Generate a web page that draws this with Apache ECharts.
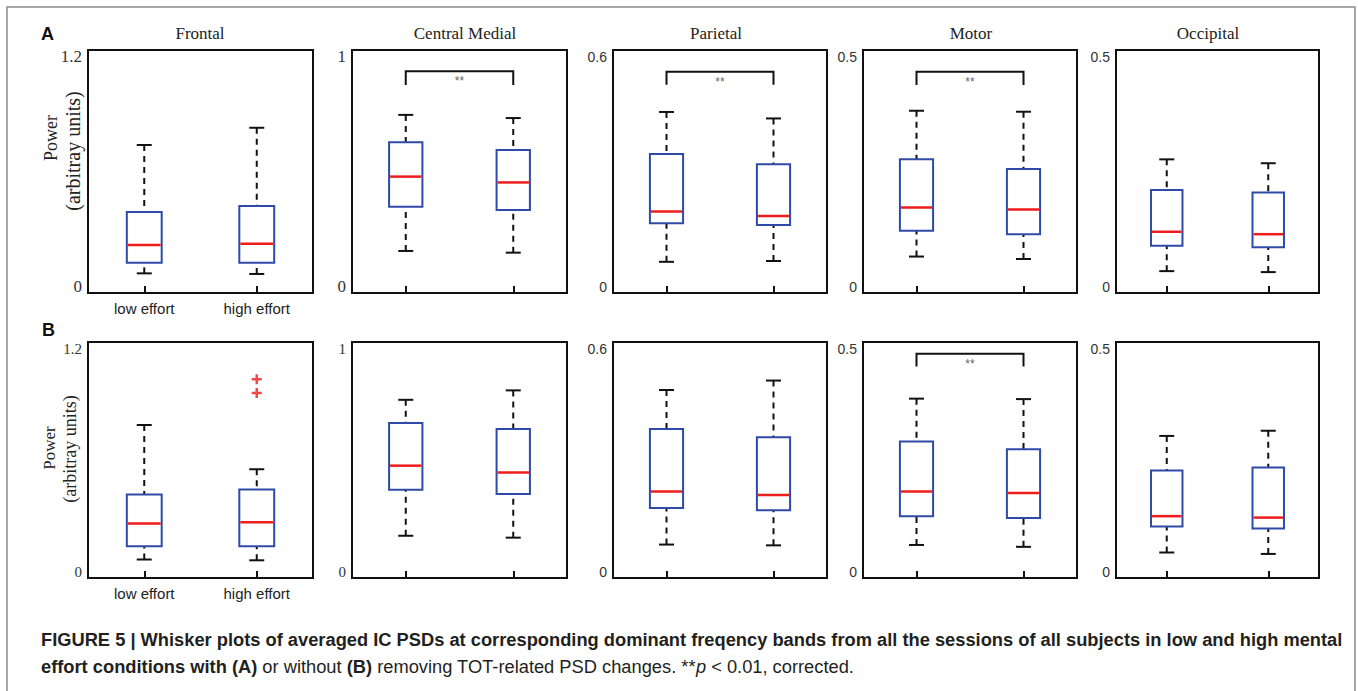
<!DOCTYPE html>
<html lang="en" style="background: #FFFFFF;height: 100%">
<head>
    <meta charset="utf-8" />
    <title>Whisker plots of averaged IC PSDs</title>
    <script type="text/javascript" src="https://cdn.jsdelivr.net/npm/echarts@6/dist/echarts.min.js"></script>
</head>
<body style="margin: 0;height: 100%">
    <div id="chart" style="width:1358px;height:691px"></div>
    <script>
    // data
    const regions = ['Frontal', 'Central Medial', 'Parietal', 'Motor', 'Occipital']
    const conditions = ['low effort', 'high effort']
    const yMaxes = [1.2, 1, 0.6, 0.5, 0.5]
    // [min, q1, median, q3, max] for low / high effort
    const boxesA = [
        [[0.097, 0.150, 0.237, 0.400, 0.731], [0.094, 0.150, 0.243, 0.430, 0.816]],
        [[0.173, 0.355, 0.479, 0.620, 0.733], [0.166, 0.342, 0.455, 0.588, 0.720]],
        [[0.077, 0.172, 0.201, 0.343, 0.447], [0.079, 0.168, 0.190, 0.318, 0.431]],
        [[0.075, 0.128, 0.176, 0.275, 0.375], [0.070, 0.121, 0.172, 0.255, 0.373]],
        [[0.045, 0.097, 0.126, 0.212, 0.275], [0.043, 0.094, 0.121, 0.207, 0.267]]
    ]
    const boxesB = [
        [[0.094, 0.162, 0.277, 0.425, 0.778], [0.090, 0.162, 0.284, 0.450, 0.553]],
        [[0.179, 0.374, 0.476, 0.657, 0.755], [0.171, 0.356, 0.447, 0.631, 0.795]],
        [[0.085, 0.178, 0.220, 0.379, 0.478], [0.083, 0.172, 0.211, 0.358, 0.502]],
        [[0.070, 0.131, 0.183, 0.289, 0.380], [0.066, 0.127, 0.180, 0.273, 0.379]],
        [[0.054, 0.109, 0.131, 0.228, 0.301], [0.051, 0.105, 0.128, 0.234, 0.312]]
    ]
    // outliers [category index, value]
    const outliersA = [[], [], [], [], []]
    const outliersB = [[[1, 1.011], [1, 0.941]], [], [], [], []]
    // significance brackets [top, leg end]
    const bracketsA = [null, [0.913, 0.856], [0.546, 0.514], [0.455, 0.428], null]
    const bracketsB = [null, null, null, [0.475, 0.448], null]
    const sigLabel = '**'

    // layout
    const colLeft = [88, 352, 613, 863, 1116]
    const colWidth = [225, 215, 214, 214, 203]
    const rows = [
        { top: 50, height: 243, boxes: boxesA, outliers: outliersA, brackets: bracketsA, serifSize: 17 },
        { top: 342, height: 236, boxes: boxesB, outliers: outliersB, brackets: bracketsB, serifSize: 15 }
    ]
    const serif = '"Liberation Serif", "Times New Roman", serif'
    const sans = '"Liberation Sans", Arial, sans-serif'
    const blue = '#2f4aa8'
    const red = '#ee1c1c'

    function renderBox(params, api) {
        let cat = api.value(0)
        let pMin = api.coord([cat, api.value(1)])
        let pQ1 = api.coord([cat, api.value(2)])
        let pMed = api.coord([cat, api.value(3)])
        let pQ3 = api.coord([cat, api.value(4)])
        let pMax = api.coord([cat, api.value(5)])
        let cx = pMed[0]
        let hw = api.size([1, 0])[0] * 0.155
        let cw = 7.5
        let dash = { stroke: '#111', lineWidth: 2, lineDash: [6, 5], fill: null }
        let solid = { stroke: '#111', lineWidth: 2, fill: null }
        return {
            type: 'group',
            children: [
                { type: 'line', shape: { x1: cx, y1: pMax[1], x2: cx, y2: pQ3[1] }, style: dash },
                { type: 'line', shape: { x1: cx, y1: pMin[1], x2: cx, y2: pQ1[1] }, style: dash },
                { type: 'line', shape: { x1: cx - cw, y1: pMax[1], x2: cx + cw, y2: pMax[1] }, style: solid },
                { type: 'line', shape: { x1: cx - cw, y1: pMin[1], x2: cx + cw, y2: pMin[1] }, style: solid },
                { type: 'rect', shape: { x: cx - hw, y: pQ3[1], width: hw * 2, height: pQ1[1] - pQ3[1] }, style: { fill: '#fff', stroke: blue, lineWidth: 2 } },
                { type: 'line', shape: { x1: cx - hw + 1, y1: pMed[1], x2: cx + hw - 1, y2: pMed[1] }, style: { stroke: red, lineWidth: 2.5 } }
            ]
        }
    }

    function renderBracket(params, api) {
        let p0 = api.coord([api.value(0), api.value(3)])
        let p1 = api.coord([api.value(0), api.value(2)])
        let p2 = api.coord([api.value(1), api.value(2)])
        let p3 = api.coord([api.value(1), api.value(3)])
        return {
            type: 'group',
            children: [
                { type: 'polyline', shape: { points: [p0, p1, p2, p3] }, style: { stroke: '#111', lineWidth: 2, fill: null } },
                { type: 'text', x: (p1[0] + p2[0]) / 2, y: p1[1] + 4, style: { text: sigLabel, fill: '#666', font: '12px ' + sans, align: 'center', verticalAlign: 'top' } }
            ]
        }
    }

    let grids = [], xAxes = [], yAxes = [], series = []
    rows.forEach(function(row, r) {
        regions.forEach(function(region, c) {
            let idx = grids.length
            let labelFont = c < 2 ? serif : sans
            let labelSize = c < 2 ? row.serifSize : 14
            grids.push({
                left: colLeft[c], top: row.top, width: colWidth[c], height: row.height,
                show: true, borderColor: '#111', borderWidth: 2, backgroundColor: '#fff'
            })
            xAxes.push({
                type: 'category', gridIndex: idx, data: conditions,
                axisLine: { lineStyle: { color: '#111', width: 2 } },
                axisTick: { show: true, inside: true, alignWithLabel: true, length: 7, lineStyle: { color: '#111', width: 2 } },
                axisLabel: { show: c === 0, fontSize: 15, fontFamily: sans, color: '#222', margin: 8 },
                splitLine: { show: false }
            })
            yAxes.push({
                type: 'value', gridIndex: idx, min: 0, max: yMaxes[c], interval: yMaxes[c],
                axisLine: { show: true, lineStyle: { color: '#111', width: 2 } },
                axisTick: { show: false },
                splitLine: { show: false },
                axisLabel: {
                    margin: 6, color: '#333', fontSize: labelSize, fontFamily: labelFont,
                    formatter: function(v) { return v === 0 ? '{lo|0}' : '{hi|' + v + '}' },
                    rich: {
                        lo: { padding: [0, 0, 13, 0], fontSize: labelSize, fontFamily: labelFont, color: '#333' },
                        hi: { padding: [13, 0, 0, 0], fontSize: labelSize, fontFamily: labelFont, color: '#333' }
                    }
                }
            })
            series.push({
                type: 'custom', xAxisIndex: idx, yAxisIndex: idx,
                renderItem: renderBox,
                encode: { x: 0, y: [1, 2, 3, 4, 5] },
                data: row.boxes[c].map(function(b, i) { return [i].concat(b) }),
                silent: true
            })
            if (row.outliers[c].length) {
                series.push({
                    type: 'scatter', xAxisIndex: idx, yAxisIndex: idx,
                    symbol: 'path://M3,0H5V3H8V5H5V8H3V5H0V3H3Z', symbolSize: 10,
                    itemStyle: { color: red },
                    data: row.outliers[c], silent: true
                })
            }
            if (row.brackets[c]) {
                series.push({
                    type: 'custom', xAxisIndex: idx, yAxisIndex: idx,
                    renderItem: renderBracket,
                    encode: { x: [0, 1], y: [2, 3] },
                    data: [[0, 1, row.brackets[c][0], row.brackets[c][1]]],
                    silent: true
                })
            }
        })
    })

    let titleX = [200, 465, 716, 971, 1208]
    let capFont = 18.3
    let graphics = [
        { type: 'rect', shape: { x: 7, y: 7, width: 1348, height: 720 }, style: { fill: null, stroke: '#8a8a8a', lineWidth: 1.5 }, silent: true, z: -1 },
        { type: 'text', x: 41, y: 34, style: { text: 'A', font: 'bold 18px ' + sans, fill: '#111', verticalAlign: 'middle' } },
        { type: 'text', x: 42, y: 330, style: { text: 'B', font: 'bold 18px ' + sans, fill: '#111', verticalAlign: 'middle' } },
        { type: 'text', x: 51, y: 138, rotation: Math.PI / 2, style: { text: 'Power', font: '18px ' + serif, fill: '#222', align: 'center', verticalAlign: 'middle' } },
        { type: 'text', x: 73, y: 151, rotation: Math.PI / 2, style: { text: '(arbitray units)', font: '20px ' + serif, fill: '#222', align: 'center', verticalAlign: 'middle' } },
        { type: 'text', x: 49, y: 448, rotation: Math.PI / 2, style: { text: 'Power', font: '17px ' + serif, fill: '#222', align: 'center', verticalAlign: 'middle' } },
        { type: 'text', x: 70, y: 449, rotation: Math.PI / 2, style: { text: '(arbitray units)', font: '18px ' + serif, fill: '#222', align: 'center', verticalAlign: 'middle' } },
        {
            type: 'text', x: 41, y: 653,
            style: {
                text: '{b|FIGURE 5 | Whisker plots of averaged IC PSDs at corresponding dominant freqency bands from all the sessions of all subjects in low and high mental}\n' +
                    '{b|effort conditions with (A)}{r| or without }{b|(B)}{r| removing TOT-related PSD changes. **}{i|p}{r| < 0.01, corrected.}',
                verticalAlign: 'middle',
                lineHeight: 27,
                rich: {
                    b: { font: 'bold ' + capFont + 'px ' + sans, fill: '#231f20', lineHeight: 27 },
                    r: { font: capFont + 'px ' + sans, fill: '#231f20', lineHeight: 27 },
                    i: { font: 'italic ' + capFont + 'px ' + sans, fill: '#231f20', lineHeight: 27 }
                }
            }
        }
    ]
    regions.forEach(function(region, c) {
        graphics.push({ type: 'text', x: titleX[c], y: 33, style: { text: region, font: '17px ' + serif, fill: '#222', align: 'center', verticalAlign: 'middle' } })
    })

    let chart = echarts.init(document.getElementById('chart'), null, { renderer: 'svg' })
    chart.setOption({
        animation: false,
        backgroundColor: '#fff',
        grid: grids,
        xAxis: xAxes,
        yAxis: yAxes,
        series: series,
        graphic: graphics
    })
    </script>
</body>
</html>
